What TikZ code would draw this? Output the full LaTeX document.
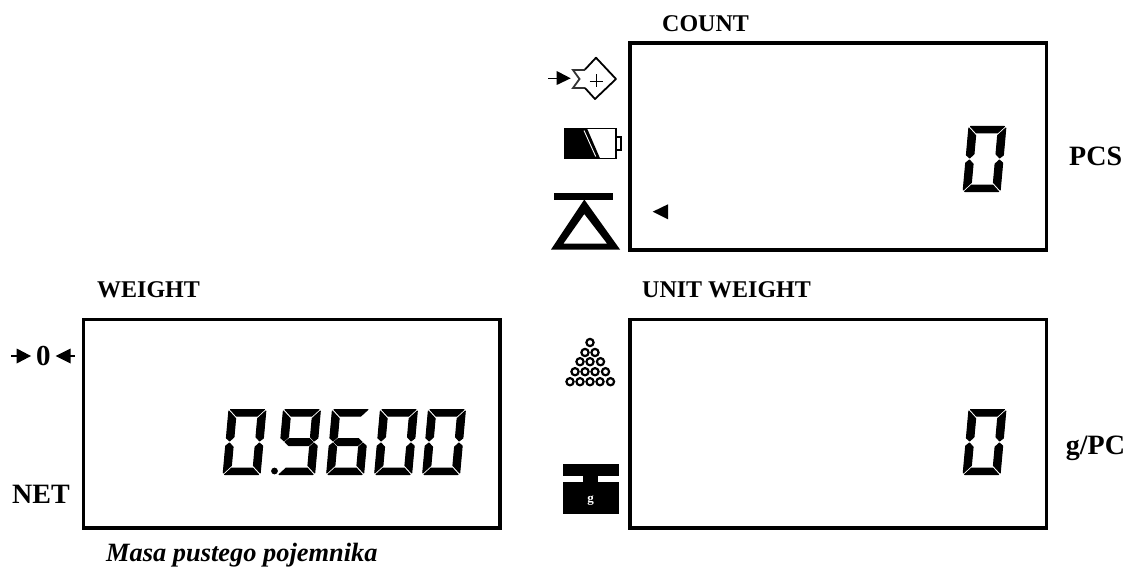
\documentclass[tikz,border=0pt]{standalone}
\usepackage{fontspec}
\setmainfont{Liberation Serif}
\tikzset{
  panel/.style={draw=black,line width=3.6pt,fill=white,inner sep=0pt,outer sep=0pt,anchor=north west,minimum width=416.5pt},
  lbl/.style={inner sep=0pt,font=\bfseries\fontsize{28}{32}\selectfont,anchor=base west},
  captxt/.style={inner sep=0pt,font=\bfseries\fontsize{24}{28}\selectfont,anchor=base west},
  seg/.style={fill=black,draw=black,line width=1pt,line join=round},
  ring/.style={draw=black,line width=2.2pt,fill=white},
}
% seven-segment helpers (local box 38 x 66, y downward)
\newcommand{\segA}{\path[seg] (2,0.5)--(36,0.5)--(29.5,7)--(8.5,7)--cycle;}
\newcommand{\segG}{\path[seg] (2,65.5)--(36,65.5)--(29.5,59)--(8.5,59)--cycle;}
\newcommand{\segF}{\path[seg] (0.5,2)--(8,9.5)--(8,28)--(4,32)--(0.5,29)--cycle;}
\newcommand{\segE}{\path[seg] (0.5,64)--(8,56.5)--(8,38)--(4,34)--(0.5,37)--cycle;}
\newcommand{\segB}{\path[seg] (37.5,2)--(30,9.5)--(30,28)--(34,32)--(37.5,29)--cycle;}
\newcommand{\segC}{\path[seg] (37.5,64)--(30,56.5)--(30,38)--(34,34)--(37.5,37)--cycle;}
\newcommand{\segM}{\path[seg] (5,33)--(9,29.5)--(29,29.5)--(33,33)--(29,36.5)--(9,36.5)--cycle;}
\newcommand{\digitzero}[2]{\begin{scope}[shift={(#1,#2)},cm={1,0,0.09,1,(0,0)}]\segA\segB\segC\segG\segE\segF\end{scope}}
\newcommand{\digitnine}[2]{\begin{scope}[shift={(#1,#2)},cm={1,0,0.09,1,(0,0)}]\segA\segB\segC\segG\segF\segM\end{scope}}
\newcommand{\digitsix}[2]{\begin{scope}[shift={(#1,#2)},cm={1,0,0.09,1,(0,0)}]\segA\segC\segG\segE\segF\segM\end{scope}}
\begin{document}
\begin{tikzpicture}[x=1pt,y=-1pt]
\useasboundingbox (0,0) rectangle (1130,567);
% panels
\node[panel,minimum height=207pt] (countbox) at (630,43) {};
\node[panel,minimum height=208.5pt] (unitbox) at (630,319.6) {};
\node[panel,minimum height=208.5pt] (weightbox) at (83.5,319.6) {};
% labels
\node[captxt] (tcount) at (662,31.7) {COUNT};
\node[captxt] (tweight) at (97,297.7) {WEIGHT};
\node[captxt] (tunit) at (642,297.7) {UNIT WEIGHT};
\node[lbl] (tpcs) at (1069,165) {PCS};
\node[lbl] (tgpc) at (1065.7,454) {g/PC};
\node[lbl] (tnet) at (12,503) {NET};
\node[inner sep=0pt,anchor=base west,font=\bfseries\itshape\fontsize{26.4}{30}\selectfont] (tmasa) at (106,561.7) {Masa pustego pojemnika};
% digits
\digitzero{968.5}{126}
\digitzero{968.5}{409}
\digitzero{228.5}{409}
\digitnine{283}{409}
\digitsix{332}{409}
\digitzero{380}{409}
\digitzero{428}{409}
\fill (274.5,471) circle (3.4pt);
% arrow + sigma diamond
\fill (556.7,71) -- (556.7,85) -- (570.7,78.3) -- cycle;
\draw[line width=1.4pt] (548.3,78.3) -- (557,78.3);
\draw[line width=1.8pt,line join=miter,draw=black!80] (585,70) -- (573,70) -- (579.5,79) -- (573,88) -- (585,88);
\draw[line width=1.8pt,line join=round] (585,69.5) -- (596,57.7) -- (616,79) -- (595,99) -- (585,88);
\draw[line width=0.9pt] (596,74.5) -- (596,87.5) (589.5,81) -- (602.5,81);
% battery
\fill (564.3,128.3) -- (587,128.3) -- (600,158.3) -- (564.3,158.3) -- cycle;
\draw[line width=1.2pt] (564.3,128.3) rectangle (616,158.3);
\draw[line width=1.2pt] (616,137) rectangle (621,150);
\draw[line width=0.9pt,white] (584,130.5) -- (595.7,156.5);
% tare
\fill (554.3,193.3) rectangle (613.3,199.5);
\fill[even odd rule] (584.3,199.5) -- (620,249.5) -- (551,249.5) -- cycle (584.3,214) -- (607,243.5) -- (563.5,243.5) -- cycle;
\fill (652.7,211.7) -- (668,204.3) -- (668,219.3) -- cycle;
% pile
\foreach \x/\y in {590/342.5,585/352.5,595/352.5,580/361.7,590/361.7,600.5/361.7,575/371.7,585/371.7,595/371.7,605.5/371.7,570/381.7,580/381.7,590/381.7,600/381.7,610.5/381.7}
  \draw[ring] (\x,\y) circle (3.6pt);
% weight
\fill (562.7,464) rectangle (619.3,476);
\fill (583.3,476) rectangle (598.3,482);
\fill (562.7,482) rectangle (619.3,514.3);
\node[text=white,inner sep=0pt,font=\bfseries\fontsize{13}{14}\selectfont] (tg) at (590.7,501) {g};
% zero marks
\fill (16.7,348.5) -- (16.7,363.5) -- (31,356) -- cycle;
\draw[line width=1.4pt] (11,356) -- (17,356);
\node[inner sep=0pt,font=\bfseries\fontsize{29}{32}\selectfont] (tzero) at (43.3,356) {0};
\fill (55.7,356) -- (70.7,348.5) -- (70.7,363.5) -- cycle;
\draw[line width=1.4pt] (70,356) -- (75,356);
\end{tikzpicture}
\end{document}
